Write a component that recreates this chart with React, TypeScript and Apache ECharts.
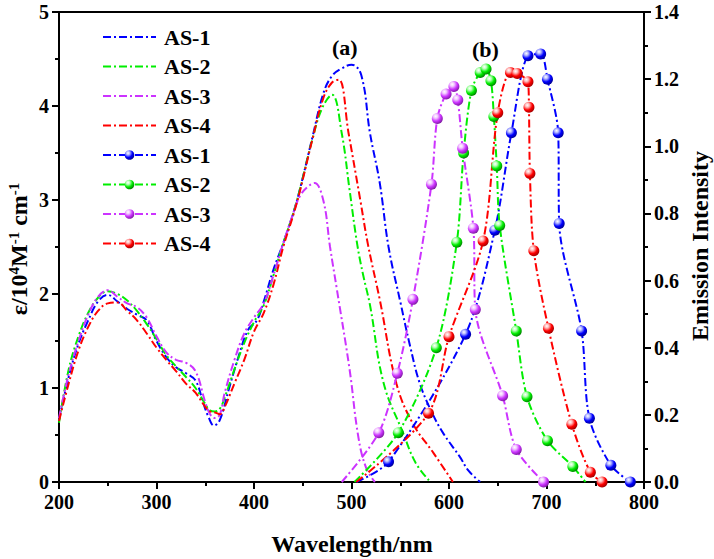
import React, { useEffect, useRef } from 'react';
import * as echarts from 'echarts';

// ---- Absorption (left axis, ε / 10^4 M^-1 cm^-1) ----
const uvWlAS1 = [200,210,220,230,240,250,260,270,280,290,300,310,320,330,340,348,353,359,365,374,384,394,403,410,420,430,440,447,460,471,480,490,500,510,519,529,538,550,560,570,582,594,611,620,632];
const uvAS1 = [0.66,1.12,1.47,1.72,1.92,1.99,1.92,1.84,1.78,1.72,1.50,1.33,1.22,1.16,1.08,0.84,0.70,0.60,0.66,0.98,1.33,1.62,1.72,1.92,2.26,2.54,2.85,3.11,3.67,4.13,4.32,4.40,4.44,4.33,3.71,3.18,2.50,1.92,1.45,1.05,0.75,0.52,0.27,0.12,0];

const uvWlBase = [200,210,220,230,240,250,260,270,280,290,300,310,320,330,340,350,355,360,365,370,380,390,400,410,420];

const uvWlAS2Tail = [430,440,447,460,470,480,490,498,506,512,519,533,553,566,581];
const uvAS2 = [0.63,1.2,1.55,1.8,1.96,2.03,2.0,1.93,1.82,1.68,1.52,1.35,1.23,1.12,1.0,0.83,0.76,0.75,0.78,0.9,1.2,1.48,1.7,1.88,2.2,
  2.54,2.85,3.11,3.65,3.98,4.12,3.71,3.11,2.52,2.2,1.88,1.05,0.52,0.2,0];

const uvWlAS3Tail = [430,440,447,455,462,471,478,485,498,507,515,524];
const uvAS3 = [0.68,1.15,1.5,1.78,1.97,2.04,1.97,1.9,1.86,1.75,1.55,1.38,1.3,1.27,1.18,0.85,0.72,0.68,0.72,0.95,1.3,1.58,1.75,1.9,2.2,
  2.54,2.85,3.04,3.14,3.18,3.0,2.5,2.05,1.2,0.48,0.15,0];

const uvWlAS4Tail = [430,440,447,460,471,480,487,497,509,517,529,546,563,584,604];
const uvAS4 = [0.65,1.05,1.4,1.65,1.82,1.9,1.91,1.82,1.72,1.58,1.43,1.3,1.18,1.05,0.95,0.8,0.75,0.74,0.72,0.8,1.05,1.3,1.6,1.8,2.1,
  2.5,2.83,3.09,3.65,4.08,4.25,4.28,3.71,3.0,2.52,1.94,1.05,0.62,0.31,0];

// ---- Emission (right axis) ----
const plWlAS1 = [505,538,617,647,664,681,694,701,712,713,736,744,766,786];
const plAS1 = [0,0.06,0.44,0.75,1.04,1.27,1.275,1.20,1.04,0.77,0.45,0.19,0.05,0];

const plWlAS2 = [503,548,587,608,615,623,632,638,643,646,649,652,669,680,701,727,740];
const plAS2 = [0,0.147,0.40,0.714,0.98,1.166,1.22,1.23,1.195,1.089,0.941,0.764,0.45,0.254,0.123,0.046,0];

const plWlAS3 = [490,528,547,563,582,588,597,605,609,614,625,627,655,669,697];
const plAS3 = [0,0.147,0.324,0.544,0.887,1.083,1.156,1.178,1.138,0.994,0.756,0.514,0.257,0.097,0];

const plWlAS4 = [505,579,600,635,650,663,670,681,682,683,687,702,726,745,757];
const plAS4 = [0,0.205,0.433,0.718,1.10,1.22,1.217,1.192,1.116,0.919,0.689,0.458,0.172,0.029,0];

const names = ['AS-1', 'AS-2', 'AS-3', 'AS-4'];
const xTicks = { min: 200, max: 800, interval: 100 };
const leftTicks = { min: 0, max: 5, interval: 1 };
const rightTicks = { min: 0, max: 1.4, interval: 0.2 };
const xTitle = 'Wavelength/nm';
const leftTitle = '{m|ε/10}{s|4}{m|M}{s|-1}{m| cm}{s|-1}';
const rightTitle = 'Emission Intensity';

const FONT = '"Liberation Serif", "Times New Roman", Times, serif';
const COLORS = ['#0000ff', '#00ee00', '#cc33ff', '#ff0000'];
const DARK = ['#00008c', '#007800', '#7a1a9c', '#9a0000'];
const LIGHT = ['#b0b4ff', '#b8ffb8', '#f2c8ff', '#ffb8b8'];
const DASH = [8, 3, 2, 3];

function zip(xs: number[], ys: number[]) {
  return xs.map((x, i) => [x, ys[i]]);
}

const mkTick = () => ({ show: true, length: 7, lineStyle: { color: '#000', width: 2 } });
const mkMinor = () => ({ show: true, splitNumber: 2, length: 4, lineStyle: { color: '#000', width: 2 } });
const mkLine = () => ({ show: true, lineStyle: { color: '#000', width: 2 } });

export default function App() {
  const ref = useRef<HTMLDivElement>(null);
  useEffect(() => {
    document.body.style.margin = '0';
    if (!ref.current) return;
    const chart = echarts.init(ref.current, undefined, { renderer: 'svg' });

    const uvSets = [
      zip(uvWlAS1, uvAS1),
      zip(uvWlBase.concat(uvWlAS2Tail), uvAS2),
      zip(uvWlBase.concat(uvWlAS3Tail), uvAS3),
      zip(uvWlBase.concat(uvWlAS4Tail), uvAS4),
    ];
    const plSets = [
      zip(plWlAS1, plAS1),
      zip(plWlAS2, plAS2),
      zip(plWlAS3, plAS3),
      zip(plWlAS4, plAS4),
    ];
    // which points of each emission curve carry no marker
    const hiddenMarkers = [[0], [0, plWlAS2.length - 1], [0], [0]];

    const sphere = (i: number) =>
      new echarts.graphic.RadialGradient(0.35, 0.3, 0.75, [
        { offset: 0, color: '#ffffff' },
        { offset: 0.25, color: LIGHT[i] },
        { offset: 0.6, color: COLORS[i] },
        { offset: 1, color: DARK[i] },
      ]);

    const series: any[] = [];
    uvSets.forEach((d, i) => {
      series.push({
        name: names[i],
        type: 'line',
        xAxisIndex: 0,
        yAxisIndex: 0,
        data: d,
        smooth: 0.4,
        symbol: 'none',
        lineStyle: { color: COLORS[i], width: 2, type: DASH },
        itemStyle: { color: 'rgba(0,0,0,0)', opacity: 0 },
      });
    });
    plSets.forEach((d, i) => {
      series.push({
        name: names[i] + ' (PL)',
        type: 'line',
        xAxisIndex: 0,
        yAxisIndex: 1,
        data: d.map((p, k) =>
          hiddenMarkers[i].includes(k) ? { value: p, symbol: 'none' } : { value: p }
        ),
        smooth: 0.3,
        symbol: 'circle',
        symbolSize: 11,
        showSymbol: true,
        lineStyle: { color: COLORS[i], width: 2, type: DASH },
        itemStyle: { color: sphere(i), borderWidth: 0 },
      });
    });

    const axisFont = { fontFamily: FONT, fontWeight: 'bold' as const, fontSize: 20, color: '#000' };

    chart.setOption({
      animation: false,
      grid: {
        left: 59, right: 70, top: 12, bottom: 77,
        outerBoundsMode: 'none',
        show: true, borderColor: '#000', borderWidth: 2, backgroundColor: 'transparent',
      },
      legend: {
        orient: 'vertical',
        left: 102,
        top: 26,
        padding: 0,
        itemWidth: 53,
        itemHeight: 12,
        itemGap: 7.5,
        data: names.concat(names.map((n) => n + ' (PL)')),
        formatter: (n: string) => n.replace(' (PL)', ''),
        textStyle: { fontFamily: FONT, fontWeight: 'bold', fontSize: 22, color: '#000', lineHeight: 22, padding: [0, 0, 0, 3] },
      },
      xAxis: {
        type: 'value',
        ...xTicks,
        axisLine: mkLine(),
        axisTick: mkTick(),
        minorTick: mkMinor(),
        splitLine: { show: false },
        axisLabel: { ...axisFont, margin: 10 },
      },
      yAxis: [
        {
          type: 'value',
          ...leftTicks,
          position: 'left',
          axisLine: mkLine(),
          axisTick: mkTick(),
          minorTick: mkMinor(),
          splitLine: { show: false },
          axisLabel: { ...axisFont, margin: 10 },
        },
        {
          type: 'value',
          ...rightTicks,
          position: 'right',
          axisLine: mkLine(),
          axisTick: mkTick(),
          minorTick: mkMinor(),
          splitLine: { show: false },
          axisLabel: { ...axisFont, margin: 10, formatter: (v: number) => v.toFixed(1) },
        },
      ],
      graphic: [
        { type: 'text', left: 332, top: 36, style: { text: '(a)', font: `bold 22px ${FONT}`, fill: '#000' } },
        { type: 'text', left: 472, top: 38, style: { text: '(b)', font: `bold 22px ${FONT}`, fill: '#000' } },
        {
          type: 'text', x: 352, y: 544,
          style: { text: xTitle, font: `bold 24px ${FONT}`, fill: '#000', align: 'center', verticalAlign: 'middle' },
        },
        {
          type: 'text', x: 19, y: 249, rotation: Math.PI / 2,
          style: {
            text: leftTitle, align: 'center', verticalAlign: 'middle', fill: '#000',
            rich: {
              m: { fontFamily: FONT, fontWeight: 'bold', fontSize: 24, fill: '#000', lineHeight: 26 },
              s: { fontFamily: FONT, fontWeight: 'bold', fontSize: 15, fill: '#000', lineHeight: 15, verticalAlign: 'top' },
            },
          },
        },
        {
          type: 'text', x: 700, y: 246, rotation: Math.PI / 2,
          style: { text: rightTitle, font: `bold 24px ${FONT}`, fill: '#000', align: 'center', verticalAlign: 'middle' },
        },
      ],
      series,
    });
    return () => chart.dispose();
  }, []);
  return <div ref={ref} style={{ width: 714, height: 559 }} />;
}
